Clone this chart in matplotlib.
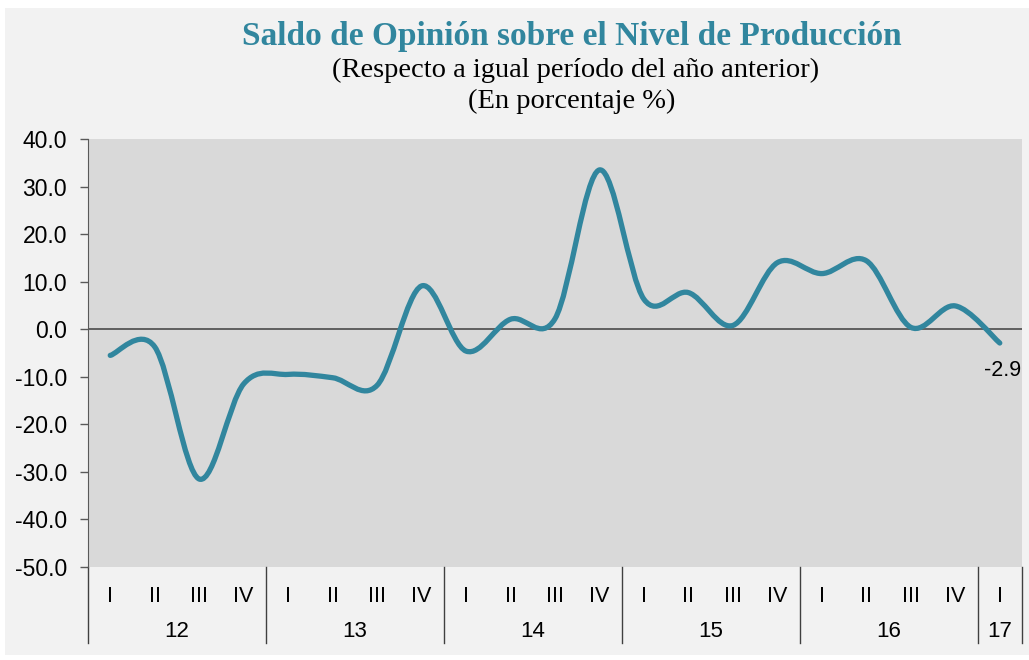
import matplotlib
matplotlib.use("Agg")
import matplotlib.pyplot as plt
import numpy as np
from matplotlib.path import Path
from matplotlib.patches import PathPatch, Rectangle

# quarterly opinion balance (%), 2012-I .. 2017-I
QUARTERS = ["I", "II", "III", "IV"] * 5 + ["I"]
YEARS = ["12", "13", "14", "15", "16", "17"]
YEAR_SPANS = [4, 4, 4, 4, 4, 1]
VALUES = [-5.5, -3.7, -31.5, -11.5,
          -9.5, -10.2, -11.8, 9.1,
          -4.6, 2.1, 2.2, 33.5,
          6.3, 7.7, 0.8, 14.0,
          11.7, 14.4, 0.4, 4.9,
          -2.9]

LINE = "#31869E"
TITLE_C = "#31869E"


def smooth_path(x, y):
    # excel-like smoothed line: cubic bezier through every point
    pts = np.column_stack([x, y])
    n = len(pts)
    verts = [pts[0]]
    codes = [Path.MOVETO]
    for i in range(n - 1):
        p0 = pts[max(i - 1, 0)]
        p1 = pts[i]
        p2 = pts[i + 1]
        p3 = pts[min(i + 2, n - 1)]
        c1 = p1 + (p2 - p0) / 6.0
        c2 = p2 - (p3 - p1) / 6.0
        verts += [c1, c2, p2]
        codes += [Path.CURVE4] * 3
    return Path(verts, codes)


def main():
    plt.rcParams["font.family"] = ["Liberation Sans", "DejaVu Sans"]
    serif = ["Liberation Serif", "DejaVu Serif"]
    fig = plt.figure(figsize=(10.29, 6.6), dpi=100, facecolor="white")
    fig.patches.append(Rectangle((5 / 1029, 5 / 660), 1 - 5 / 1029, 1 - 13 / 660,
                                 transform=fig.transFigure, facecolor="#F2F2F2",
                                 edgecolor="none", zorder=-10))

    ax = fig.add_axes([88 / 1029, 93 / 660, 934 / 1029, 428 / 660])
    ax.set_facecolor("#D9D9D9")

    x = np.arange(len(VALUES), dtype=float)
    ax.add_patch(PathPatch(smooth_path(x, np.array(VALUES)), facecolor="none",
                           edgecolor=LINE, linewidth=3.8, capstyle="round",
                           joinstyle="round", zorder=3))
    ax.axhline(0, color="#5F5F5F", linewidth=1.4, zorder=2)

    ax.set_xlim(-0.5, len(VALUES) - 0.5)
    ax.set_ylim(-50, 40)
    ax.set_yticks(np.arange(-50, 40.1, 10))
    ax.set_yticklabels([f"{v:.1f}" for v in np.arange(-50, 40.1, 10)], fontsize=16.5)
    ax.tick_params(axis="y", length=6, width=1, color="#595959", pad=9)

    ax.set_xticks(x)
    ax.set_xticklabels(QUARTERS, fontsize=15.5)
    ax.tick_params(axis="x", length=0, pad=14)

    for side in ("top", "right", "bottom"):
        ax.spines[side].set_visible(False)
    ax.spines["left"].set_color("#595959")

    # year dividers and labels below the axis
    trans = ax.get_xaxis_transform()
    edges = np.concatenate([[0], np.cumsum(YEAR_SPANS)]) - 0.5
    for e in edges:
        ax.plot([e, e], [0, -0.178], transform=trans, color="#404040",
                linewidth=1, clip_on=False)
    for yr, a, b in zip(YEARS, edges[:-1], edges[1:]):
        ax.text((a + b) / 2, -0.15, yr, transform=trans, ha="center",
                va="center", fontsize=16)

    ax.annotate(f"{VALUES[-1]:.1f}", (x[-1], VALUES[-1]), xytext=(2, -20),
                textcoords="offset points", ha="center", va="center", fontsize=15.5)

    fig.text(0.556, 0.944, "Saldo de Opinión sobre el Nivel de Producción",
             ha="center", va="center", fontsize=24, fontweight="bold",
             color=TITLE_C, family=serif)
    fig.text(0.559, 0.893, "(Respecto a igual período del año anterior)",
             ha="center", va="center", fontsize=20.5, family=serif)
    fig.text(0.556, 0.846, "(En porcentaje %)", ha="center", va="center",
             fontsize=20.5, family=serif)

    fig.savefig("out.png", dpi=100)


if __name__ == "__main__":
    main()
